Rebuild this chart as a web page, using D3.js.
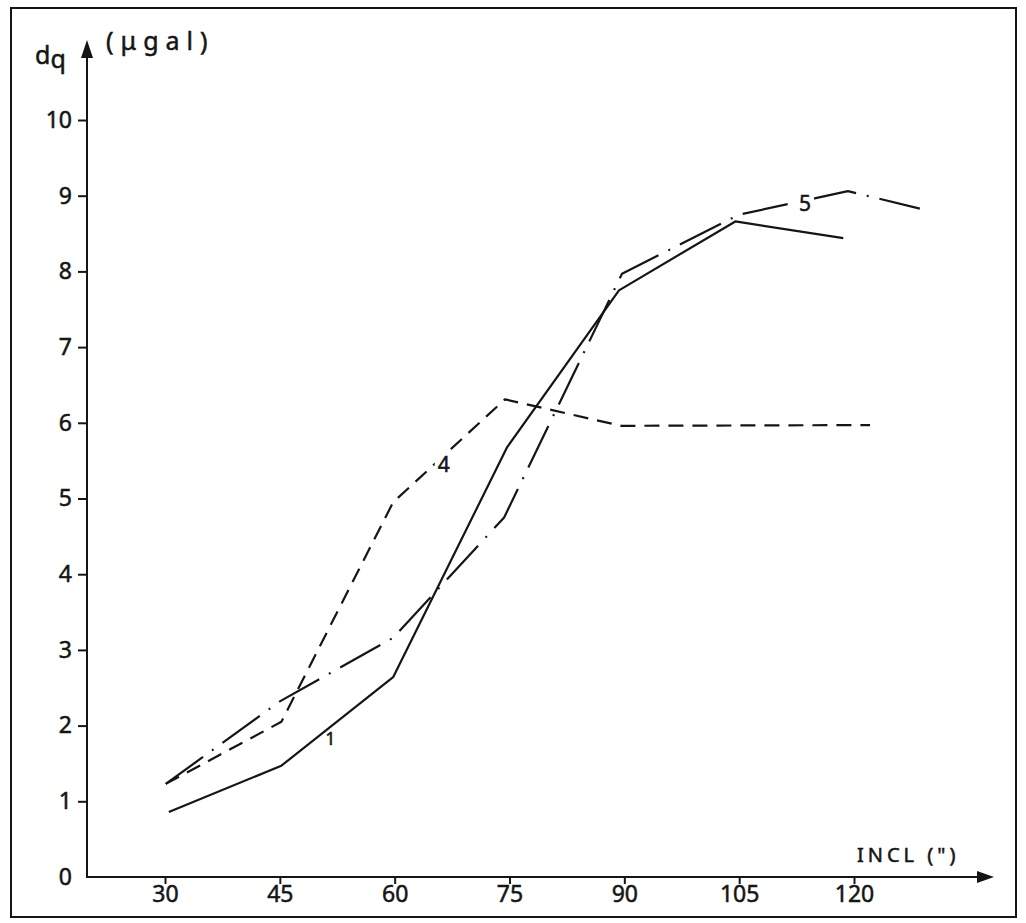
<!DOCTYPE html>
<html><head><meta charset="utf-8">
<script src="https://cdn.jsdelivr.net/npm/d3@7"></script>
<style>body{margin:0;background:#fff}svg{display:block}</style>
</head><body><svg id="c" width="1026" height="923"></svg>
<script>
// ---- data ----
const xTicks = [30, 45, 60, 75, 90, 105, 120];
const yTicks = [0, 1, 2, 3, 4, 5, 6, 7, 8, 9, 10];

// curve 1 (solid)
const s1x = [30.5, 45.2, 59.8, 74.7, 89.3, 104.5, 118.6];
const s1y = [0.86, 1.47, 2.64, 5.68, 7.75, 8.66, 8.44];
// curve 4 (dashed)
const s4x = [30.1, 45.2, 59.8, 74.4, 89.6, 122.1];
const s4y = [1.23, 2.05, 4.95, 6.31, 5.96, 5.97];
// curve 5 (long dash - dot)
const s5x = [30.1, 45.0, 59.8, 74.3, 89.7, 105.0, 119.2, 128.6];
const s5y = [1.23, 2.32, 3.16, 4.75, 7.97, 8.75, 9.06, 8.83];

const curveNames = ["1", "4", "5"];
const labelX = [51.6, 66.4, 113.6];
const labelY = [1.84, 5.45, 8.9];

const yUnit = "(μgal)";
const xTitle = "INCL (\")";

// ---- drawing ----
const svg = d3.select("#c");
const ink = "#151515";
const font = "'Noto Sans', 'DejaVu Sans', sans-serif";

svg.append("rect").attr("width", 1026).attr("height", 923).attr("fill", "#fff");
svg.append("rect").attr("x", 11).attr("y", 8).attr("width", 1005).attr("height", 909)
  .attr("fill", "none").attr("stroke", ink).attr("stroke-width", 2);

const x = d3.scaleLinear().domain([30, 120]).range([165, 854]);
const y = d3.scaleLinear().domain([0, 10]).range([877, 120]);
const axisX = 87;
const y0 = y(0);

function textStyle(sel, size) {
  sel.attr("font-family", font).attr("font-size", size).attr("fill", ink)
    .attr("stroke", ink).attr("stroke-width", 0.5);
}

// y axis
const gy = svg.append("g").attr("transform", `translate(${axisX},0)`)
  .call(d3.axisLeft(y).tickValues(yTicks).tickSize(9).tickPadding(6).tickFormat(d3.format("d")));
gy.select(".domain").remove();
gy.selectAll(".tick line").attr("stroke", ink).attr("stroke-width", 2)
  .filter(d => d === 0).remove();
gy.selectAll(".tick text").call(textStyle, 23);
svg.append("line").attr("x1", axisX).attr("x2", axisX).attr("y1", y0 + 1).attr("y2", 52)
  .attr("stroke", ink).attr("stroke-width", 2);
svg.append("path").attr("d", `M${axisX},40 L${axisX - 6},58 L${axisX + 6},58 Z`).attr("fill", ink);

// x axis
const gx = svg.append("g").attr("transform", `translate(0,${y0})`)
  .call(d3.axisBottom(x).tickValues(xTicks).tickSize(7).tickPadding(2).tickFormat(d3.format("d")));
gx.select(".domain").remove();
gx.selectAll(".tick line").attr("stroke", ink).attr("stroke-width", 2);
gx.selectAll(".tick text").call(textStyle, 23);
svg.append("line").attr("x1", axisX).attr("x2", 982).attr("y1", y0).attr("y2", y0)
  .attr("stroke", ink).attr("stroke-width", 2);
svg.append("path").attr("d", `M994,${y0} L977,${y0 - 6} L977,${y0 + 6} Z`).attr("fill", ink);

// axis titles
const dq = svg.append("text").attr("x", 35).attr("y", 64).call(textStyle, 25);
dq.append("tspan").text("d");
dq.append("tspan").attr("dy", 4).text("q");
svg.append("text").attr("x", 106).attr("y", 50).call(textStyle, 25)
  .attr("letter-spacing", 7).text(yUnit);
svg.append("text").attr("x", 857).attr("y", 862).call(textStyle, 20)
  .attr("letter-spacing", 4).text(xTitle);

// curves
const line = d3.line().x(d => x(d[0])).y(d => y(d[1]));
const series = [
  { xs: s1x, ys: s1y, dash: null },
  { xs: s4x, ys: s4y, dash: "15,9" },
  { xs: s5x, ys: s5y, dash: "46,11,2,11" }
];
series.forEach(s => {
  const pts = s.xs.map((v, i) => [v, s.ys[i]]);
  svg.append("path").attr("d", line(pts)).attr("fill", "none")
    .attr("stroke", ink).attr("stroke-width", 2.2).attr("stroke-linejoin", "round")
    .attr("stroke-dasharray", s.dash);
});

// curve labels
curveNames.forEach((n, i) => {
  if (i > 0) {
    svg.append("rect").attr("x", x(labelX[i]) - 9).attr("y", y(labelY[i]) - 11)
      .attr("width", 18).attr("height", 22).attr("fill", "#fff");
  }
  svg.append("text").attr("x", x(labelX[i])).attr("y", y(labelY[i]))
    .attr("text-anchor", "middle").attr("dominant-baseline", "central")
    .call(textStyle, i === 0 ? 18 : 21).text(n);
});
</script>
</body></html>
